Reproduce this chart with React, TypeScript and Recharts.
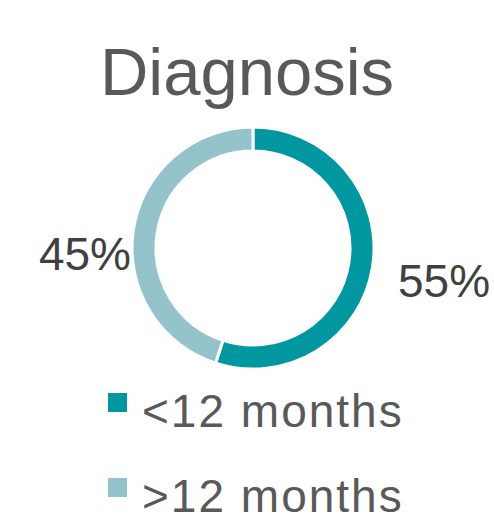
import React from 'react'
import { PieChart, Pie, Cell, Customized } from 'recharts'

const categories = ['<12 months', '>12 months']
const shares = [55, 45]
const colors = ['#0097A1', '#94C3CC']

const data = categories.map((name, i) => ({ name, value: shares[i] }))

const FONT = '"Liberation Sans", Arial, sans-serif'

const renderLabel = (props: any) => {
  const { cx, cy, outerRadius, index, value } = props
  const right = index === 0
  return (
    <text
      x={right ? cx + outerRadius + 24 : cx - outerRadius - 1}
      y={right ? cy + 49 : cy + 22}
      textAnchor={right ? 'start' : 'end'}
      fill="#404040"
      fontSize={46}
      fontFamily={FONT}
    >
      {`${value}%`}
    </text>
  )
}

// legend drawn in svg, one row per category
const LegendRows = () => (
  <g>
    {categories.map((name, i) => (
      <g key={name} transform={`translate(108, ${393 + i * 85})`}>
        <rect x={0} y={0} width={19} height={19} fill={colors[i]} />
        <text
          x={34}
          y={34}
          fill="#595959"
          fontSize={46}
          fontFamily={FONT}
          letterSpacing={2}
        >
          {name}
        </text>
      </g>
    ))}
  </g>
)

const Title = () => (
  <text
    x={247}
    y={95}
    textAnchor="middle"
    fill="#595959"
    fontSize={67}
    fontFamily={FONT}
  >
    Diagnosis
  </text>
)

export default function App() {
  return (
    <div style={{ position: 'absolute', left: 0, top: 0, background: '#fff' }}>
      <PieChart width={494} height={522} margin={{ top: 0, right: 0, bottom: 0, left: 0 }}>
        <Customized component={Title} />
        <Pie
          data={data}
          dataKey="value"
          nameKey="name"
          cx={253}
          cy={248}
          innerRadius={97}
          outerRadius={121}
          startAngle={90}
          endAngle={-270}
          stroke="#fff"
          strokeWidth={3}
          label={renderLabel}
          labelLine={false}
          isAnimationActive={false}
        >
          {data.map((d, i) => (
            <Cell key={d.name} fill={colors[i]} />
          ))}
        </Pie>
        <Customized component={LegendRows} />
      </PieChart>
    </div>
  )
}
